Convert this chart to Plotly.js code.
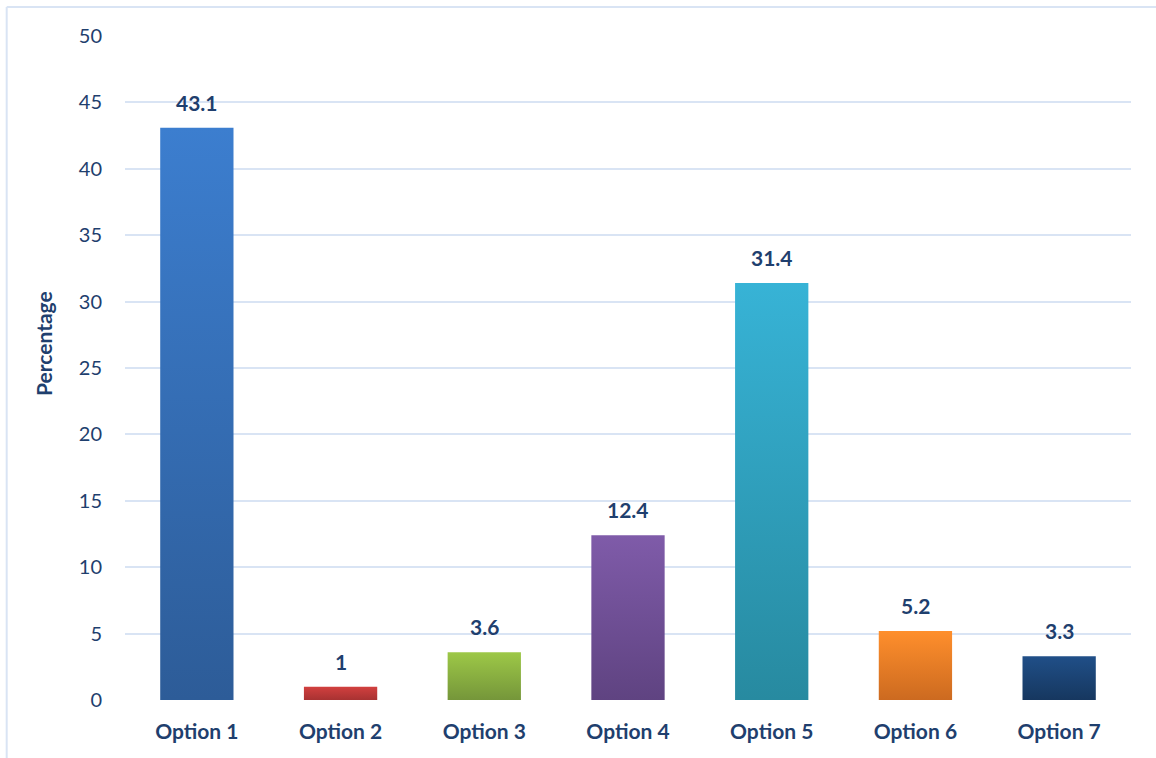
<!DOCTYPE html>
<html>
<head>
<meta charset="utf-8">
<script src="https://cdn.plot.ly/plotly-3.0.1.min.js"></script>
<style>
html,body{margin:0;padding:0;background:#fff;}
#chart{width:1156px;height:758px;}
</style>
</head>
<body>
<div id="chart"></div>
<script>
const categories = ["Option 1","Option 2","Option 3","Option 4","Option 5","Option 6","Option 7"];
const values = [43.1, 1, 3.6, 12.4, 31.4, 5.2, 3.3];
const labels = ["43.1","1","3.6","12.4","31.4","5.2","3.3"];
const topColors = ["#3c7ecf","#d2403f","#9dc847","#7f5ba9","#37b3d6","#ff8f2c","#204f88"];
const bottomColors = ["#2d5c98","#a83232","#75963a","#5f4381","#278aa0","#cc6a20","#16375f"];
const midColors = ["#346dba","#bd3939","#8aaf40","#6f4f96","#2f9fbc","#e67d26","#1b4373"];

const textColor = "#1f3f6e";
const fontFam = "Lato, 'Open Sans', sans-serif";

const trace = {
  type: "bar",
  x: categories,
  y: values,
  marker: {color: midColors, line: {width: 0}},
  hoverinfo: "none"
};

const annotations = categories.map((c, i) => ({
  x: c, y: values[i], xref: "x", yref: "y",
  text: "<b>" + labels[i] + "</b>",
  showarrow: false, yanchor: "bottom", yshift: 11,
  font: {family: fontFam, size: 21, color: textColor}
}));
annotations.push({
  xref: "paper", yref: "paper", x: -0.081, y: 0.537,
  xanchor: "center", yanchor: "middle", textangle: -90,
  text: "<b>Percentage</b>", showarrow: false,
  font: {family: fontFam, size: 21, color: textColor}
});

const layout = {
  width: 1156, height: 758,
  margin: {l: 125, r: 25, t: 36, b: 58},
  paper_bgcolor: "#ffffff", plot_bgcolor: "#ffffff",
  bargap: 0.49,
  showlegend: false,
  font: {family: fontFam, color: textColor},
  xaxis: {
    type: "category",
    tickfont: {family: fontFam, size: 21, color: textColor, weight: "bold"},
    ticklabelstandoff: 17,
    showgrid: false, zeroline: false, showline: false, ticks: ""
  },
  yaxis: {
    range: [0, 50], dtick: 5, tick0: 0,
    tickfont: {family: fontFam, size: 20, color: textColor},
    ticklabelstandoff: 22,
    showgrid: true, gridcolor: "#d9e4f4", gridwidth: 2,
    zeroline: false, showline: false, ticks: "", fixedrange: true
  },
  annotations: annotations,
  shapes: [
    {type: "line", xref: "paper", yref: "paper", x0: -0.1176, x1: 1.03, y0: 1.0437, y1: 1.0437, line: {color: "#d9e4f4", width: 2}},
    {type: "line", xref: "paper", yref: "paper", x0: -0.1176, x1: -0.1176, y0: 1.0437, y1: -0.09, line: {color: "#d9e4f4", width: 2}}
  ]
};

Plotly.newPlot("chart", [trace], layout, {displayModeBar: false, staticPlot: true}).then(gd => {
  const svg = gd.querySelector("svg.main-svg");
  const ns = "http://www.w3.org/2000/svg";
  let defs = svg.querySelector("defs");
  if (!defs) { defs = document.createElementNS(ns, "defs"); svg.insertBefore(defs, svg.firstChild); }
  const paths = gd.querySelectorAll(".barlayer .point path");
  paths.forEach((p, i) => {
    const g = document.createElementNS(ns, "linearGradient");
    g.setAttribute("id", "bargrad" + i);
    g.setAttribute("x1", "0"); g.setAttribute("y1", "0");
    g.setAttribute("x2", "0"); g.setAttribute("y2", "1");
    const s1 = document.createElementNS(ns, "stop");
    s1.setAttribute("offset", "0"); s1.setAttribute("stop-color", topColors[i]);
    const s2 = document.createElementNS(ns, "stop");
    s2.setAttribute("offset", "1"); s2.setAttribute("stop-color", bottomColors[i]);
    g.appendChild(s1); g.appendChild(s2); defs.appendChild(g);
    p.style.fill = "url(#bargrad" + i + ")";
  });
});
</script>
</body>
</html>
